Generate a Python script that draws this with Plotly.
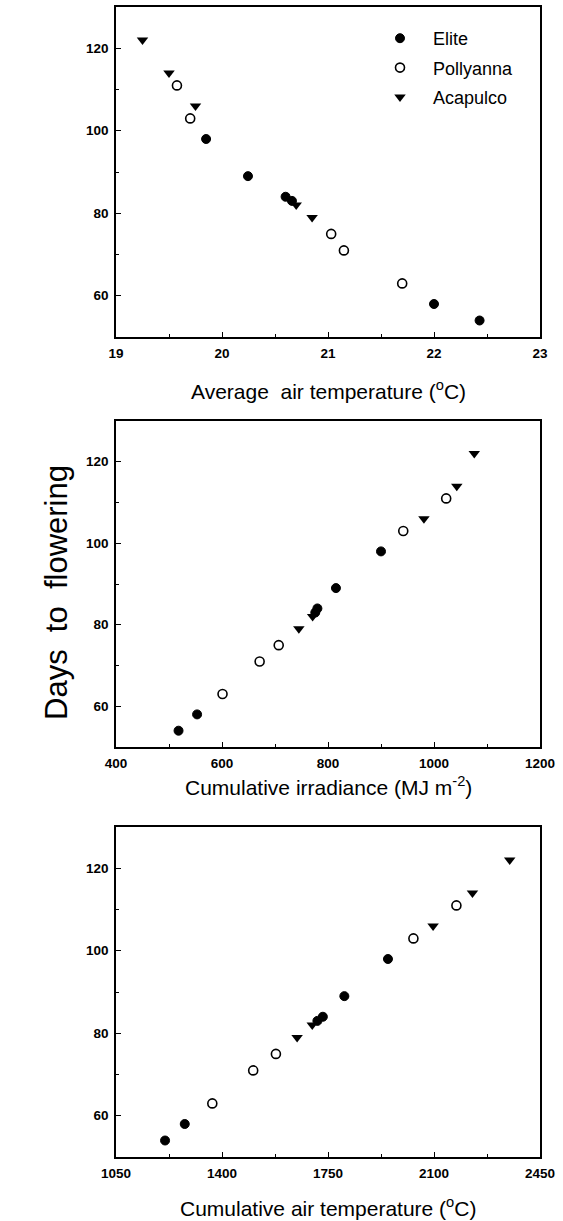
import plotly.graph_objects as go

# ---- data ----
series_names = ["Elite", "Pollyanna", "Acapulco"]

# days to flowering
elite_days = [54, 58, 83, 84, 89, 98]
polly_days = [63, 71, 75, 103, 111]
acap_days = [79, 82, 106, 114, 122]

# average air temperature (°C)
elite_avg_temp = [22.43, 22.00, 20.66, 20.60, 20.245, 19.85]
polly_avg_temp = [21.70, 21.15, 21.03, 19.70, 19.575]
acap_avg_temp = [20.85, 20.70, 19.75, 19.50, 19.25]

# cumulative irradiance (MJ m-2)
elite_irr = [518, 553, 776, 780, 815, 900]
polly_irr = [601, 671, 707, 942, 1023]
acap_irr = [745, 771, 981, 1043, 1076]

# cumulative air temperature (°C)
elite_cum_temp = [1212, 1277, 1715, 1733, 1804, 1948]
polly_cum_temp = [1368, 1503, 1578, 2032, 2174]
acap_cum_temp = [1648, 1698, 2097, 2227, 2350]

x_titles = ["Average  air temperature (<sup>o</sup>C)",
            "Cumulative irradiance (MJ m<sup>-2</sup>)",
            "Cumulative air temperature (<sup>o</sup>C)"]
y_title = "Days  to  flowering"

x_ranges = [[19, 23], [400, 1200], [1050, 2450]]
x_dticks = [1, 200, 350]
x_minor = [0.5, 100, 175]
y_range = [50, 130]

# ---- figure ----
W, H = 563, 1221
fig = go.Figure()

FONT = "Liberation Sans, Arial, sans-serif"
marker_styles = {
    "Elite": dict(symbol="circle", color="black", size=9, line=dict(color="black", width=1)),
    "Pollyanna": dict(symbol="circle-open", color="black", size=9, line=dict(color="black", width=1.6)),
    "Acapulco": dict(symbol="triangle-down", color="black", size=10, line=dict(color="black", width=0)),
}

panels = [
    (elite_avg_temp, polly_avg_temp, acap_avg_temp),
    (elite_irr, polly_irr, acap_irr),
    (elite_cum_temp, polly_cum_temp, acap_cum_temp),
]
days = [elite_days, polly_days, acap_days]

# pixel boxes of the panels (top, bottom)
boxes = [(7, 337), (421, 747), (827, 1157)]
x_left, x_right = 116, 540
title_y = [390, 786, 1207]

for i, xs in enumerate(panels):
    xa = "x" if i == 0 else f"x{i+1}"
    ya = "y" if i == 0 else f"y{i+1}"
    for k, name in enumerate(series_names):
        fig.add_trace(go.Scatter(
            x=xs[k], y=days[k], mode="markers", name=name,
            marker=marker_styles[name], xaxis=xa, yaxis=ya,
            showlegend=(i == 0), legendgroup=name,
        ))
    top, bot = boxes[i]
    axis_common = dict(
        showline=True, linecolor="black", linewidth=1.6, mirror=True,
        ticks="inside", ticklen=5, tickwidth=1.3, tickcolor="black",
        showgrid=False, zeroline=False, automargin=False,
        tickfont=dict(family=FONT, size=13.5, color="black", weight="bold"),
    )
    xkey = "xaxis" if i == 0 else f"xaxis{i+1}"
    ykey = "yaxis" if i == 0 else f"yaxis{i+1}"
    fig.update_layout({
        xkey: dict(axis_common, domain=[x_left / W, x_right / W],
                   range=x_ranges[i], dtick=x_dticks[i], tick0=x_ranges[i][0],
                   anchor=ya, ticklabelstandoff=3,
                   minor=dict(ticks="inside", ticklen=3, tickwidth=1.2, tickcolor="black",
                              dtick=x_minor[i], tick0=x_ranges[i][0], showgrid=False)),
        ykey: dict(axis_common, domain=[1 - bot / H, 1 - top / H],
                   range=y_range, dtick=20, tick0=60, anchor=xa, ticklabelstandoff=3,
                   minor=dict(ticks="inside", ticklen=3, tickwidth=1.2, tickcolor="black",
                              dtick=10, tick0=50, showgrid=False)),
    })
    fig.add_annotation(
        text=x_titles[i], x=(x_left + x_right) / 2 / W, y=1 - title_y[i] / H,
        xref="paper", yref="paper", showarrow=False, xanchor="center", yanchor="middle",
        font=dict(family=FONT, size=21, color="black"),
    )

fig.add_annotation(
    text=y_title, x=56 / W, y=1 - 593 / H, xref="paper", yref="paper",
    showarrow=False, textangle=-90, xanchor="center", yanchor="middle",
    font=dict(family=FONT, size=31, color="black"),
)

fig.update_layout(
    width=W, height=H,
    margin=dict(l=0, r=0, t=0, b=0, pad=0, autoexpand=False),
    paper_bgcolor="white", plot_bgcolor="white",
    legend=dict(x=367 / W, y=1 - 20 / H, xanchor="left", yanchor="top",
                font=dict(family=FONT, size=18, color="black"),
                bgcolor="rgba(0,0,0,0)", tracegroupgap=3, traceorder="grouped",
                itemwidth=56),
)

fig.write_html("out.html", config={"displayModeBar": False})

# remove the default page margin so the figure sits at the window's top-left
with open("out.html", "r", encoding="utf-8") as f:
    html = f.read()
html = html.replace("<head>", "<head><style>html,body{margin:0;padding:0;overflow:hidden;}</style>", 1)
with open("out.html", "w", encoding="utf-8") as f:
    f.write(html)
